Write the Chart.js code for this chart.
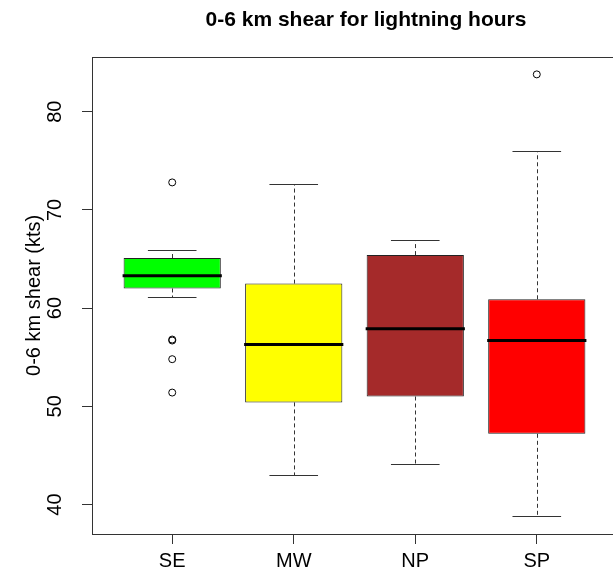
<!DOCTYPE html>
<html>
<head>
<meta charset="utf-8">
<script src="https://cdn.jsdelivr.net/npm/chart.js@4"></script>
<style>
html,body{margin:0;padding:0;overflow:hidden;background:#ffffff;}
#wrap{position:relative;width:732px;height:581px;}
</style>
</head>
<body>
<div id="wrap"><canvas id="c" width="732" height="581"></canvas></div>
<script>
// ---- data ----
const categories   = ['SE', 'MW', 'NP', 'SP'];
const xPositions   = [1, 2, 3, 4];
const whiskerLow   = [61.1, 43.0, 44.1, 38.8];
const q1Values     = [62.0, 50.4, 51.0, 47.2];
const medianValues = [63.3, 56.3, 57.9, 56.7];
const q3Values     = [65.1, 62.5, 65.4, 60.9];
const whiskerHigh  = [65.9, 72.6, 66.9, 76.0];
const outlierGroup  = [1, 1, 1, 1, 1, 4];
const outlierValues = [72.8, 56.8, 56.7, 54.8, 51.4, 83.8];
const boxColors    = ['#00FF00', '#FFFF00', '#A52A2A', '#FF0000'];
const yTickValues  = [40, 50, 60, 70, 80];
const yMin = 37.0, yMax = 85.6;
const xMin = 0.34, xMax = 4.66;

const titleText = '0-6 km shear for lightning hours';
const yTitleText = '0-6 km shear (kts)';

Chart.defaults.font.family = "'Liberation Sans', Arial, Helvetica, sans-serif";
Chart.defaults.color = '#000000';

const boxExtras = {
  id: 'boxExtras',
  afterDatasetsDraw(chart) {
    const ctx = chart.ctx;
    const xs = chart.scales.x, ys = chart.scales.y;
    const line = (x1, y1, x2, y2) => { ctx.beginPath(); ctx.moveTo(x1, y1); ctx.lineTo(x2, y2); ctx.stroke(); };
    ctx.save();
    for (let i = 0; i < categories.length; i++) {
      const cx = Math.round(xs.getPixelForValue(xPositions[i])) + 0.5;
      const capL = xs.getPixelForValue(xPositions[i] - 0.2);
      const capR = xs.getPixelForValue(xPositions[i] + 0.2);
      const boxL = xs.getPixelForValue(xPositions[i] - 0.4);
      const boxR = xs.getPixelForValue(xPositions[i] + 0.4);
      const yHi = Math.round(ys.getPixelForValue(whiskerHigh[i])) + 0.5;
      const yLo = Math.round(ys.getPixelForValue(whiskerLow[i])) + 0.5;
      const yQ3 = ys.getPixelForValue(q3Values[i]);
      const yQ1 = ys.getPixelForValue(q1Values[i]);
      const yMed = ys.getPixelForValue(medianValues[i]);
      ctx.strokeStyle = '#333333';
      ctx.lineWidth = 1;
      ctx.setLineDash([4, 3]);
      line(cx, yQ3, cx, yHi);
      line(cx, yQ1, cx, yLo);
      ctx.setLineDash([]);
      line(capL, yHi, capR, yHi);
      line(capL, yLo, capR, yLo);
      ctx.strokeStyle = '#000000';
      ctx.lineWidth = 3;
      line(boxL - 1, yMed, boxR + 1, yMed);
    }
    const a = chart.chartArea;
    ctx.strokeStyle = '#333333';
    ctx.lineWidth = 1;
    ctx.strokeRect(Math.round(a.left) + 0.5, Math.round(a.top) + 0.5,
                   Math.round(a.right) - Math.round(a.left), Math.round(a.bottom) - Math.round(a.top));
    ctx.restore();
  }
};

new Chart(document.getElementById('c'), {
  type: 'bar',
  data: {
    datasets: [
      {
        type: 'bar',
        data: xPositions.map((xv, i) => ({ x: xv, y: [q1Values[i], q3Values[i]] })),
        backgroundColor: boxColors,
        borderColor: '#222222',
        borderWidth: 1,
        borderSkipped: false,
        barPercentage: 0.8,
        categoryPercentage: 1.0,
        order: 2
      },
      {
        type: 'scatter',
        data: outlierGroup.map((g, i) => ({ x: g, y: outlierValues[i] })),
        pointStyle: 'circle',
        pointRadius: 3.5,
        pointBackgroundColor: 'rgba(0,0,0,0)',
        pointBorderColor: '#000000',
        pointBorderWidth: 1,
        order: 1
      }
    ]
  },
  options: {
    responsive: false,
    animation: false,
    devicePixelRatio: 1,
    layout: { padding: { left: 0, right: 0, top: 0, bottom: 0 } },
    plugins: {
      legend: { display: false },
      tooltip: { enabled: false },
      title: {
        display: true,
        text: titleText,
        fullSize: true,
        color: '#000000',
        font: { size: 21, weight: 'bold' },
        padding: { top: 8, bottom: 23.5 }
      }
    },
    scales: {
      x: {
        type: 'linear',
        min: xMin,
        max: xMax,
        offset: false,
        afterBuildTicks: s => { s.ticks = xPositions.map(v => ({ value: v })); },
        afterFit: s => { s.height = 47; },
        grid: { display: true, offset: false, drawOnChartArea: false, drawTicks: true, tickLength: 10, color: '#333333', lineWidth: 1 },
        border: { display: false },
        ticks: {
          autoSkip: false,
          maxRotation: 0,
          minRotation: 0,
          padding: 5,
          color: '#000000',
          font: { size: 20 },
          callback: v => { const i = xPositions.indexOf(v); return i >= 0 ? categories[i] : ''; }
        }
      },
      y: {
        type: 'linear',
        min: yMin,
        max: yMax,
        afterBuildTicks: s => { s.ticks = yTickValues.map(v => ({ value: v })); },
        afterFit: s => { s.width = 92; },
        grid: { display: true, drawOnChartArea: false, drawTicks: true, tickLength: 10, color: '#333333', lineWidth: 1 },
        border: { display: false },
        title: {
          display: true,
          text: yTitleText,
          color: '#000000',
          font: { size: 20 },
          padding: { top: 22, bottom: 0 }
        },
        ticks: {
          autoSkip: false,
          minRotation: 90,
          maxRotation: 90,
          crossAlign: 'center',
          padding: 15,
          color: '#000000',
          font: { size: 20 }
        }
      },
      yRightMargin: {
        type: 'linear',
        position: 'right',
        display: true,
        afterFit: s => { s.width = 115; },
        grid: { display: false, drawTicks: false },
        border: { display: false },
        ticks: { display: false }
      }
    }
  },
  plugins: [boxExtras]
});
</script>
</body>
</html>
